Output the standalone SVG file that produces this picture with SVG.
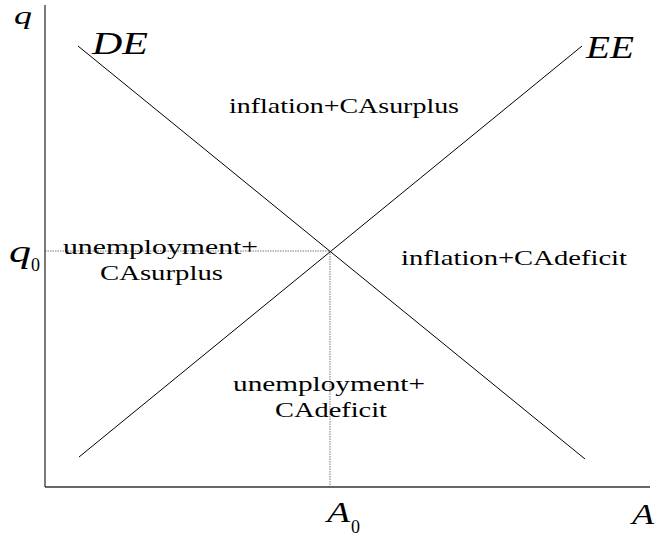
<svg xmlns="http://www.w3.org/2000/svg" width="656" height="541" viewBox="0 0 656 541">
<style>
.axis{stroke:#333;stroke-width:1.3;fill:none}
.curve{stroke:#000;stroke-width:1;fill:none}
.guide{stroke:#555;stroke-width:0.8;stroke-dasharray:1.5 1;fill:none}
.lbl{font-family:'Liberation Serif','Times New Roman',serif;font-size:22px;fill:#000}
.it{font-family:'Liberation Serif','Times New Roman',serif;font-style:italic;fill:#000}
.sub{font-family:'Liberation Serif','Times New Roman',serif;font-size:18px;fill:#000}
</style>
<rect width="656" height="541" fill="#fff"/>
<g id="connectors">
<line class="axis" x1="45" y1="5" x2="45" y2="487"/>
<line class="axis" x1="45" y1="487" x2="650" y2="487"/>
<line class="guide" x1="45" y1="251" x2="330" y2="251"/>
<line class="guide" x1="330" y1="251" x2="330" y2="487"/>
<line class="curve" x1="78" y1="46" x2="585" y2="459"/>
<line class="curve" x1="79" y1="457" x2="582" y2="46"/>
</g>
<g id="axis-labels">
<text class="it" x="14" y="24" font-size="26" textLength="18" lengthAdjust="spacingAndGlyphs">q</text>
<text class="it" x="9" y="262" font-size="31" textLength="22" lengthAdjust="spacingAndGlyphs">q</text>
<text class="sub" x="31" y="271">0</text>
<text class="it" x="327" y="522" font-size="29" textLength="23" lengthAdjust="spacingAndGlyphs">A</text>
<text class="sub" x="351" y="533">0</text>
<text class="it" x="632" y="524" font-size="29" textLength="22" lengthAdjust="spacingAndGlyphs">A</text>
</g>
<g id="DE"><text class="it" x="92" y="54" font-size="32" textLength="56" lengthAdjust="spacingAndGlyphs">DE</text></g>
<g id="EE"><text class="it" x="586" y="58" font-size="32" textLength="48" lengthAdjust="spacingAndGlyphs">EE</text></g>
<g id="region-top"><text class="lbl" x="229" y="113" textLength="230" lengthAdjust="spacingAndGlyphs">inflation+CAsurplus</text></g>
<g id="region-left">
<text class="lbl" x="63" y="254" textLength="195" lengthAdjust="spacingAndGlyphs">unemployment+</text>
<text class="lbl" x="100" y="280" textLength="123" lengthAdjust="spacingAndGlyphs">CAsurplus</text>
</g>
<g id="region-right"><text class="lbl" x="401" y="265" textLength="226" lengthAdjust="spacingAndGlyphs">inflation+CAdeficit</text></g>
<g id="region-bottom">
<text class="lbl" x="233" y="391" textLength="192" lengthAdjust="spacingAndGlyphs">unemployment+</text>
<text class="lbl" x="275" y="417" textLength="112" lengthAdjust="spacingAndGlyphs">CAdeficit</text>
</g>
</svg>
